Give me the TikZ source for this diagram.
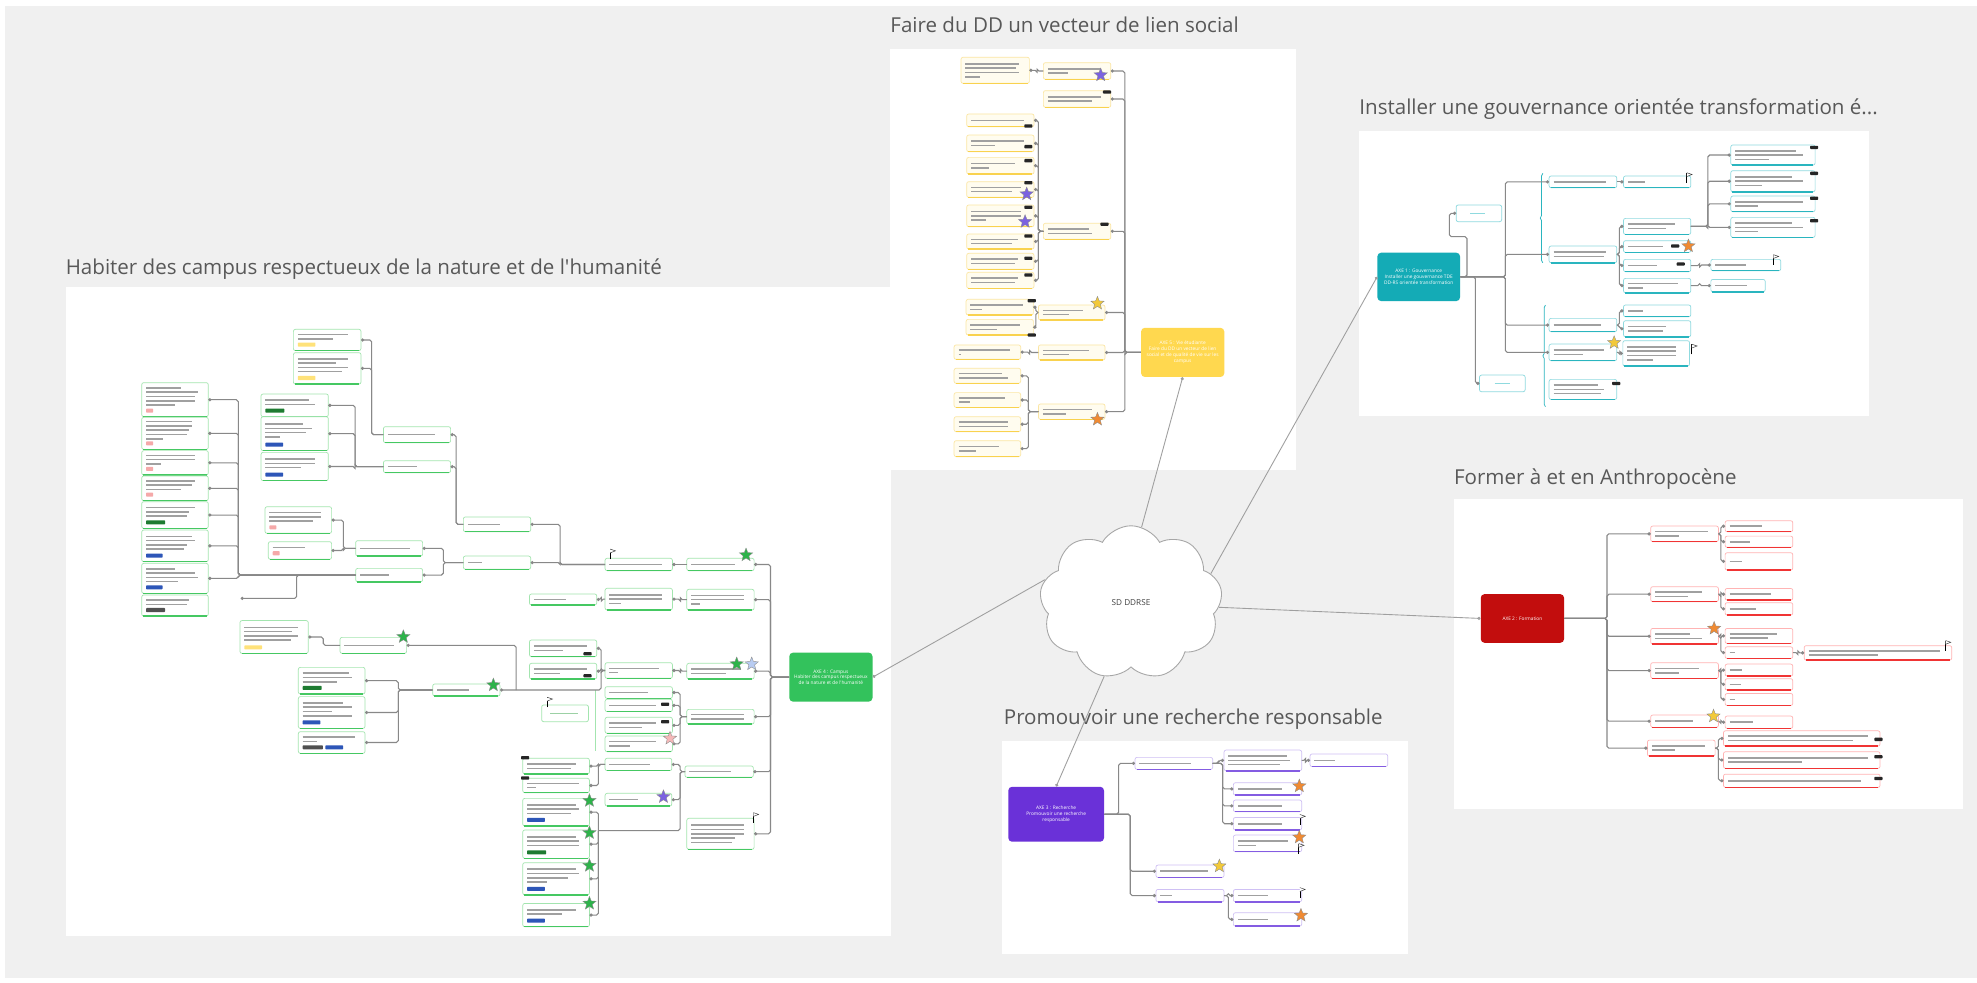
\documentclass[tikz,border=0pt]{standalone}
\usepackage{fontspec}
\setmainfont{Open Sans}
\usetikzlibrary{shapes.geometric,shapes.symbols,arrows.meta,calc,decorations.pathreplacing}
\definecolor{bgc}{HTML}{F0F0F0}
\definecolor{ttl}{HTML}{585858}
\definecolor{cn}{HTML}{888888}
\definecolor{barc}{HTML}{A0A0A0}
\definecolor{gL}{HTML}{A3E5AF}\definecolor{gD}{HTML}{45C862}\definecolor{gF}{HTML}{FFFFFF}
\definecolor{yL}{HTML}{FBE6A4}\definecolor{yD}{HTML}{F9D24E}\definecolor{yF}{HTML}{FFFCEF}
\definecolor{tL}{HTML}{8FDADF}\definecolor{tD}{HTML}{2AB5BF}\definecolor{tF}{HTML}{FFFFFF}
\definecolor{rL}{HTML}{FFB3B3}\definecolor{rD}{HTML}{F03434}\definecolor{rF}{HTML}{FFFFFF}
\definecolor{pL}{HTML}{CFC0F4}\definecolor{pD}{HTML}{845CE2}\definecolor{pF}{HTML}{FFFFFF}
\definecolor{axG}{HTML}{33C25C}\definecolor{axY}{HTML}{FFD84F}\definecolor{axT}{HTML}{14ABB6}
\definecolor{axR}{HTML}{C20D0D}\definecolor{axP}{HTML}{6A31D8}
\definecolor{tgP}{HTML}{F5A9A9}\definecolor{tgY}{HTML}{FFE27A}\definecolor{tgG}{HTML}{1E7B31}
\definecolor{tgB}{HTML}{2D56B8}\definecolor{tgK}{HTML}{505050}
\definecolor{sG}{HTML}{2DB34A}\definecolor{sP}{HTML}{7B62E0}\definecolor{sY}{HTML}{F2C93A}
\definecolor{sO}{HTML}{F08A32}\definecolor{sLB}{HTML}{B8CCF2}\definecolor{sPk}{HTML}{F5B8B8}
\tikzset{
  leaf/.style={rectangle,rounded corners=1.6,line width=0.55,inner sep=0,outer sep=0},
  bar/.style={draw=barc,line width=1.25},
  conn/.style={draw=cn,line width=0.85,rounded corners=1.5,-{Circle[length=2.5,width=2.5]}},
  cc/.style={draw=gray!75,line width=0.7,-{Circle[length=2.4,width=2.4]}},
  elb/.style={to path={-- ([xshift=#1]\tikztostart) |- (\tikztotarget) \tikztonodes}},
  axe/.style={rectangle,rounded corners=3,inner sep=1,align=center,text=white,font=\fontsize{3.8}{4.6}\selectfont},
  ttlsty/.style={inner sep=0,anchor=base west,text=ttl,font=\fontsize{16.3}{19}\selectfont},
  starsty/.style={star,star points=5,star point ratio=2.3,inner sep=0,minimum size=11,draw=black!45,line width=0.3},
  dotsty/.style={rectangle,fill=black!85,minimum width=6.5,minimum height=2.6,inner sep=0,rounded corners=0.6},
  notesty/.style={leaf,fill=white,line width=0.6}
}
\newcount\mybarcount
\newcounter{icn}
\newcommand{\bx}[8]{%
  \node[leaf,draw=#6L,fill=#6F,minimum width={#4-#2},minimum height={#5-#3}] (#1) at ({(#2+#4)/2},{(#3+#5)/2}) {};%
  \draw[line width=1.2,#6D] ($(#1.south west)+(1.3,0)$) -- ($(#1.south east)+(-1.3,0)$);%
  \global\mybarcount=0 %
  \foreach \x in {#7}{\global\advance\mybarcount by 1 }%
  \pgfmathsetmacro{\myhh}{(#5-#3-#8)/2}%
  \foreach \fr [count=\ii] in {#7}{%
    \draw[bar] ($(#1.north west)+(3.5,{\myhh+(\ii-(\the\mybarcount+1)/2)*3.4})$) -- ++({\fr*(#4-#2-7)},0);}%
}
\newcommand{\tg}[4]{\fill[#2,rounded corners=0.5] ($(#1.south west)+({3.5+#3},-6.4)$) rectangle ++(#4,3.2);}
\newcommand{\ctr}[7]{\node[axe,fill=#6,minimum width={#4-#2},minimum height={#5-#3}] (#1) at ({(#2+#4)/2},{(#3+#5)/2}) {#7};}
\newcommand{\st}[3]{\stepcounter{icn}\node[starsty,fill=#3] (ic\theicn) at (#1,#2) {};}
\newcommand{\dts}[2]{\stepcounter{icn}\node[dotsty] (ic\theicn) at (#1,#2) {};}
\newcommand{\flg}[2]{\stepcounter{icn}\coordinate (ic\theicn) at (#1,#2);
  \draw[black,line width=0.7] ($(ic\theicn)+(0,4)$) -- ($(ic\theicn)+(0,-4)$);
  \draw[black!80,line width=0.35,fill=white] ($(ic\theicn)+(0,-4)$) -- ($(ic\theicn)+(4.2,-2.6)$) -- ($(ic\theicn)+(0,-1)$);}
\begin{document}
\begin{tikzpicture}[x=1pt,y=-1pt]
\useasboundingbox (0,0) rectangle (1568,779);
\fill[white] (0,0) rectangle (1568,779);
\fill[bgc] (4,5) rectangle (1568,776);
% panels
\fill[white] (52,228) rectangle (707,742);
\fill[white] (706,39) rectangle (1028,373);
\fill[white] (1078,104) rectangle (1482,330);
\fill[white] (1153,396) rectangle (1557,642);
\fill[white] (795,588) rectangle (1117,757);
% titles
\node[ttlsty] (t1) at (52,218) {Habiter des campus respectueux de la nature et de l\textquotesingle humanité};
\node[ttlsty] (t2) at (706,26) {Faire du DD un vecteur de lien social};
\node[ttlsty] (t3) at (1078,91) {Installer une gouvernance orientée transformation é...};
\node[ttlsty] (t4) at (1153,384) {Former à et en Anthropocène};
\node[ttlsty] (t5) at (796,575) {Promouvoir une recherche responsable};

% central nodes
\ctr{gC}{626}{517.6}{692}{556.5}{axG}{AXE 4 : Campus\\Habiter des campus respectueux\\de la nature et de l\textquotesingle humanité}
\ctr{yC}{905}{260}{971}{299}{axY}{AXE 5 : Vie étudiante\\Faire du DD un vecteur de lien\\social et de qualité de vie sur les\\campus}
\ctr{tC}{1092.4}{200.4}{1158}{238.8}{axT}{AXE 1 : Gouvernance\\Installer une gouvernance TDE\\DD-RS orientée transformation}
\ctr{rC}{1174.4}{471.2}{1240.5}{509.8}{axR}{AXE 2 : Formation}
\ctr{pC}{799.7}{624}{875.6}{667.6}{axP}{AXE 3 : Recherche\\Promouvoir une recherche\\responsable}

% cloud
\node[cloud,cloud puffs=9,cloud puff arc=120,cloud ignores aspect,draw=gray!70,fill=white,line width=0.7,minimum width=145,minimum height=122,inner sep=0,font=\fontsize{6.5}{8}\selectfont,text=black!75] (cl) at (897,478) {SD DDRSE};
\draw[cc] (cl.82) -- (yC.south);
\draw[cc] (cl.20) -- (tC.west);
\draw[cc] (cl.-3) -- (rC.west);
\draw[cc] (cl.250) -- (pC.north);
\draw[cc] (cl.165) -- (gC.east);

% ================= GREEN =================
\bx{L1}{112.4}{303.5}{165.2}{330.5}{g}{0.6,0.9,0.85,0.85,0.5}{5}\tg{L1}{tgP}{0}{5.5}
\bx{L2}{112.4}{331}{165.2}{356.4}{g}{0.8,0.8,0.75,0.7,0.3}{5}\tg{L2}{tgP}{0}{5.5}
\bx{L3}{112.4}{357.4}{165.2}{376.7}{g}{0.85,0.85,0.25}{5}\tg{L3}{tgP}{0}{5.5}
\bx{L4}{112.4}{377.5}{165.2}{397.1}{g}{0.85,0.8,0.6}{5}\tg{L4}{tgP}{0}{5.5}
\bx{L5}{112.4}{397.9}{165.2}{419.1}{g}{0.85,0.75,0.7}{5}\tg{L5}{tgG}{0}{15}
\bx{L6}{112.4}{420.4}{165.2}{445.5}{g}{0.8,0.85,0.7,0.65}{5}\tg{L6}{tgB}{0}{13}
\bx{L7}{112.4}{446.8}{165.2}{470.6}{g}{0.5,0.85,0.9,0.55}{5}\tg{L7}{tgB}{0}{13}
\bx{L8}{112.4}{471.9}{165.2}{488.6}{g}{0.75,0.7}{5}\tg{L8}{tgK}{0}{15}
\bx{U1}{232.7}{261.2}{286.3}{278.1}{g}{0.85,0.6}{5}\tg{U1}{tgY}{0}{14}
\bx{U2}{232.7}{279.7}{286.3}{304.6}{g}{0.85,0.65,0.85,0.75}{5}\tg{U2}{tgY}{0}{14}
\bx{U3}{207}{312.5}{260.4}{330.5}{g}{0.75,0.85}{5}\tg{U3}{tgG}{0}{15}
\bx{U4}{207}{330.5}{260.4}{357.4}{g}{0.65,0.8,0.7,0.25}{5}\tg{U4}{tgB}{0}{14}
\bx{U5}{207}{358.8}{260.4}{381.2}{g}{0.85,0.85,0.6}{5}\tg{U5}{tgB}{0}{14}
\bx{V1}{304.1}{338.4}{357.4}{351.1}{g}{0.8}{0}
\bx{V2}{304.1}{365.4}{357.4}{374.9}{g}{0.5}{0}
\bx{M1}{210.2}{401.9}{263}{423}{g}{0.9,0.9,0.75}{5}\tg{M1}{tgP}{0}{5.5}
\bx{M2}{212.8}{429.6}{263}{443.6}{g}{0.6}{5}\tg{M2}{tgP}{0}{5.5}
\bx{M3}{282.1}{428.8}{335.2}{441}{g}{0.85}{0}
\bx{M4}{282.1}{450.8}{335.2}{461.4}{g}{0.5}{0}
\bx{W1}{367.5}{410}{420.9}{421.7}{g}{0.55}{0}
\bx{W2}{367.5}{441}{420.9}{451.5}{g}{0.25}{0}
\bx{G1}{190.3}{492.2}{244.5}{518.2}{g}{0.9,0.8,0.9,0.78}{5}\tg{G1}{tgY}{0}{14}
\bx{G2}{269.7}{505.5}{322.5}{518.2}{g}{0.85}{0}
\bx{G3}{343.2}{542.5}{396.6}{552}{g}{0.55}{0}
\bx{H1}{236.6}{529.3}{289.5}{550.4}{g}{0.8,0.85,0.6}{5}\tg{H1}{tgG}{0}{15}
\bx{H2}{236.6}{552.5}{289.5}{577.7}{g}{0.7,0.85,0.5,0.85}{5}\tg{H2}{tgB}{0}{14}
\bx{H3}{236.6}{580.3}{289.5}{597.5}{g}{0.9,0.25}{5}\tg{H3}{tgK}{0}{16}\tg{H3}{tgB}{18}{14}
\bx{J1}{479.9}{442.8}{533.3}{452.6}{g}{0.9}{0}
\bx{J2}{479.9}{466.6}{533.3}{483.8}{g}{0.9,0.9,0.2}{0}
\bx{J3}{419.9}{471.1}{473.3}{479.8}{g}{0.55}{0}
\bx{J4}{479.9}{525.6}{533.3}{538}{g}{0.85,0.15}{0}
\bx{J5}{419.9}{507.6}{473.3}{520.8}{g}{0.9,0.5}{0}
\bx{J6}{419.9}{526.1}{473.3}{538.5}{g}{0.9,0.45}{0}
\bx{K1}{544.7}{442.8}{598.1}{452.6}{g}{0.75}{0}
\bx{K2}{544.7}{467.4}{598.1}{483.8}{g}{0.9,0.9,0.15}{0}
\bx{K3}{544.7}{526.1}{598.1}{538.5}{g}{0.85,0.6}{0}
\bx{K4}{544.7}{562.6}{598.1}{574.2}{g}{0.9,0.9}{0}
\bx{K5}{543.3}{607.5}{597.5}{616.5}{g}{0.7}{0}
\bx{K6}{544.7}{649}{598.1}{673.6}{g}{0.9,0.9,0.9,0.75,0.7}{0}
\bx{gk1}{479.9}{544.6}{533.3}{553.9}{g}{0.65}{0}
\bx{gk2}{479.9}{554.6}{533.3}{564.4}{g}{0.8}{0}
\bx{gk3}{479.9}{568.9}{533.3}{581.6}{g}{0.8,0.55}{0}
\bx{gk4}{479.9}{583.7}{533.3}{596.2}{g}{0.8,0.35}{0}
\bx{E1}{479.9}{601.4}{532.8}{611.2}{g}{0.7}{0}
\bx{E2}{479.9}{629.2}{532.8}{639.3}{g}{0.5}{0}
\bx{EE1}{414.6}{601.4}{467.5}{613.9}{g}{0.85,0.75}{0}
\bx{EE2}{414.6}{617.3}{467.5}{628.7}{g}{0.9,0.15}{0}
\bx{F1}{414.6}{633.2}{467.5}{655.1}{g}{0.85,0.9,0.75}{5}\tg{F1}{tgB}{0}{14}
\bx{F2}{414.6}{658.3}{467.5}{680.8}{g}{0.85,0.9,0.9}{5}\tg{F2}{tgG}{0}{15}
\bx{F3}{414.6}{684.2}{467.5}{709.8}{g}{0.85,0.9,0.7,0.35}{5}\tg{F3}{tgB}{0}{14}
\bx{F4}{414.6}{716.5}{467.5}{735}{g}{0.85,0.6}{5}\tg{F4}{tgB}{0}{14}
\node[notesty,draw=gL,minimum width=37.1,minimum height=13.3] (gnote) at (448.15,565.75) {};
\draw[line width=0.9,gL!80!gray] ($(gnote.west)+(7,0)$) -- ++(22,0);
\draw[gL,line width=0.6] (472,547.2) -- (472,595.4);
% green connectors
\foreach \c in {K1,K2,K3,K4,K5,K6} \draw[conn] (gC.west) to[elb=-14.7] (\c.east);
\draw[conn] (K1.west) -- (J1.east);
\draw[conn] (K2.west) to[elb=-5] (J2.east);
\draw[conn] (J2.west) to[elb=-3] (J3.east);
\draw[conn] (K3.west) to[elb=-5] (J4.east);
\foreach \c in {W1,W2} \draw[conn] (J1.west) to[elb=-35.7] (\c.east);
\foreach \c in {V1,V2} \draw[conn] (W1.west) to[elb=-5.8] (\c.east);
\foreach \c in {M3,M4} \draw[conn] (W2.west) to[elb=-15.9] (\c.east);
\foreach \c in {U1,U2} \draw[conn] (V1.west) to[elb=-9.3] (\c.east);
\foreach \c in {U3,U4,U5} \draw[conn] (V2.west) to[elb=-22.5] (\c.east);
\foreach \c in {M1,M2} \draw[conn] (M3.west) to[elb=-9.8] (\c.east);
\foreach \c in {L1,L2,L3,L4,L5,L6,L7} \draw[conn] (M4.west) to[elb=-93.1] (\c.east);
\coordinate (lfree) at (190.9,474.6);
\draw[conn] (M4.west) to[elb=-46.8] (lfree);
\foreach \c in {J5,J6,G3} \draw[conn] (J4.west) to[elb=-3.2] (\c.east);
\draw[conn] ($(G3.east)+(12.7,0)$) |- (G2.east);
\draw[conn] (G2.west) to[elb=-13.3] (G1.east);
\foreach \c in {H1,H2,H3} \draw[conn] (G3.west) to[elb=-27.3] (\c.east);
\foreach \c in {gk1,gk2,gk3,gk4} \draw[conn] (K4.west) to[elb=-5.3] (\c.east);
\foreach \c in {E1,E2} \draw[conn] (K5.west) to[elb=-3.9] (\c.east);
\coordinate (fj) at (474.6,658.8);
\draw[conn,-] (K5.west) to[elb=-3.9] (fj);
\foreach \c in {F1,F2,F3,F4} \draw[conn] (fj) |- (\c.east);
\foreach \c in {EE1,EE2} \draw[conn] (E1.west) to[elb=-5.3] (\c.east);
% green icons
\st{591.7}{440.2}{sG}\st{584.3}{526.6}{sG}\st{596.2}{526.6}{sLB}\st{531.4}{585.6}{sPk}
\st{526.2}{631.9}{sP}\st{319.9}{505}{sG}\st{391.3}{543.3}{sG}
\st{467.5}{635}{sG}\st{467.5}{660.5}{sG}\st{467.5}{686.5}{sG}\st{467.5}{716.5}{sG}
\dts{416.5}{601}\dts{416.5}{617}\dts{466}{518.5}\dts{466}{536}\dts{527.5}{558.5}\dts{527.5}{572.4}
\flg{483.9}{439.5}\flg{597.5}{648.5}\flg{434}{557}

% ================= YELLOW =================
\bx{B1}{827.5}{49.7}{881}{62.9}{y}{0.9,0.35}{0}
\bx{B2}{827.5}{71.9}{881}{85.1}{y}{0.9,0.75}{0}
\bx{B3}{827.5}{177.1}{881}{189.8}{y}{0.7,0.75}{0}
\bx{B4}{823.6}{241.9}{876.4}{253.8}{y}{0.7,0.45}{0}
\bx{B5}{823.6}{273.6}{876.4}{285.5}{y}{0.8,0.45}{0}
\bx{B6}{823.6}{320.4}{876.4}{332.6}{y}{0.85,0.4}{0}
\bx{A1}{762.2}{45.4}{816.4}{66.1}{y}{0.9,0.85,0.9,0.25}{0}
\bx{Y1}{766.7}{90.4}{820.1}{100.5}{y}{0.9}{0}
\bx{Y2}{766.7}{107.1}{820.1}{120.3}{y}{0.9,0.4}{0}
\bx{Y3}{766.7}{124.8}{820.1}{138}{y}{0.75,0.3}{0}
\bx{Y4}{766.7}{144.1}{820.1}{156.5}{y}{0.85,0.7}{0}
\bx{Y5}{766.7}{162.6}{820.1}{179.8}{y}{0.85,0.85,0.25}{0}
\bx{Y6}{766.7}{185.6}{820.1}{197.5}{y}{0.8,0.7}{0}
\bx{Y7}{766.7}{200.9}{820.1}{213.6}{y}{0.8,0.75}{0}
\bx{Y8}{766.7}{216}{820.1}{228.7}{y}{0.8,0.75}{0}
\bx{Y9}{766.2}{237.4}{819.6}{249.8}{y}{0.9,0.2}{0}
\bx{Y10}{766.2}{253.3}{819.6}{265.7}{y}{0.85,0.45}{0}
\bx{Y11}{756.7}{273.6}{809.5}{285}{y}{0.9,0.05}{0}
\bx{Y12}{756.7}{292.1}{809.5}{304}{y}{0.75,0.85}{0}
\bx{Y13}{756.7}{311.4}{809.5}{323.1}{y}{0.8,0.2}{0}
\bx{Y14}{756.7}{330.5}{809.5}{342.4}{y}{0.85,0.85}{0}
\bx{Y15}{756.7}{349.5}{809.5}{362.2}{y}{0.7,0.3}{0}
\foreach \c in {B1,B2,B3,B4,B5,B6} \draw[conn] (yC.west) to[elb=-12.7] (\c.east);
\draw[conn] (B1.west) to[elb=-5] (A1.east);
\foreach \c in {Y1,Y2,Y3,Y4,Y5,Y6,Y7,Y8} \draw[conn] (B3.west) to[elb=-3.9] (\c.east);
\foreach \c in {Y9,Y10} \draw[conn] (B4.west) to[elb=-2] (\c.east);
\draw[conn] (B5.west) to[elb=-7] (Y11.east);
\foreach \c in {Y12,Y13,Y14,Y15} \draw[conn] (B6.west) to[elb=-8] (\c.east);
\st{873}{59.5}{sP}\st{870.4}{240.6}{sY}\st{870.4}{332.6}{sO}\st{814.3}{153.9}{sP}\st{813}{175.8}{sP}
\dts{878}{73}\dts{876}{177.8}
\dts{815.6}{99.9}\dts{815.6}{116.3}\dts{815.6}{127.4}\dts{815.6}{144.9}\dts{815.6}{164.4}
\dts{815.6}{187.2}\dts{815.6}{204.9}\dts{815.6}{218.1}\dts{818.3}{238.5}\dts{818.3}{265.7}

% ================= TEAL =================
\bx{C1}{1228.6}{139.6}{1282.3}{148.9}{t}{0.9}{0}
\bx{C2}{1228.6}{195.1}{1282.3}{208.4}{t}{0.9,0.85}{0}
\bx{C3}{1228.6}{252.5}{1282.3}{263.1}{t}{0.8}{0}
\bx{C4}{1228.6}{272.9}{1282.3}{286.1}{t}{0.85,0.5}{0}
\bx{C5}{1228.6}{300.9}{1282.3}{316.8}{t}{0.75,0.85,0.8}{0}
\bx{D1}{1287.6}{139.6}{1341}{148.9}{t}{0.3}{0}
\bx{D2}{1287.6}{173.2}{1341}{185.9}{t}{0.8,0.65}{0}
\bx{D3}{1287.6}{190.9}{1341}{200.2}{t}{0.6}{0}
\bx{D4}{1287.6}{205.7}{1341}{215.5}{t}{0.5}{0}
\bx{D5}{1287.6}{220.8}{1341}{232.2}{t}{0.85,0.25}{0}
\bx{D6}{1287.6}{241.9}{1341}{251.2}{t}{0.25}{0}
\bx{D7}{1287.6}{254.4}{1341}{267.1}{t}{0.65,0.6}{0}
\bx{D8}{1287.1}{270.2}{1340}{290.3}{t}{0.85,0.85,0.85,0.45}{0}
\bx{T1}{1372.7}{115}{1439.6}{130.9}{t}{0.8,0.9,0.45}{0}
\bx{T2}{1372.7}{135.4}{1439.6}{152.1}{t}{0.75,0.9,0.35}{0}
\bx{T3}{1372.7}{155.5}{1439.6}{167.9}{t}{0.9,0.3}{0}
\bx{T4}{1372.7}{172.4}{1439.6}{188.3}{t}{0.75,0.9,0.3}{0}
\bx{T5}{1356.9}{205.7}{1412.4}{214.7}{t}{0.5}{0}
\bx{T6}{1356.9}{221.6}{1400}{231.4}{t}{0.7}{0}
\node[notesty,draw=tL,minimum width=36.1,minimum height=13.2] (tN1) at (1172.95,169.2) {};
\draw[line width=0.8,tL] ($(tN1.west)+(11,0)$) -- ++(12,0);
\node[notesty,draw=tL,minimum width=36.2,minimum height=13.2] (tN2) at (1191.5,304.1) {};
\draw[line width=0.8,tL] ($(tN2.west)+(12,0)$) -- ++(12,0);
\draw[tD,line width=0.6,decorate,decoration={brace,amplitude=2}] (1223.6,208.4) -- (1223.6,137.5);
\draw[tD,line width=0.6,decorate,decoration={brace,amplitude=2}] (1225.7,322.6) -- (1225.7,242);
\foreach \c in {C1,C2,C3,C4} \draw[conn] (tC.east) to[elb=35.7] (\c.west);
\coordinate (tj) at (1149.5,187.7);
\draw[conn] (tC.east) to[elb=5.3] (tj) |- (tN1.west);
\draw[conn] (tC.east) to[elb=11.9] (tN2.west);
\draw[conn] (C1.east) -- (D1.west);
\foreach \c in {D2,D3,D4,D5} \draw[conn] (C2.east) to[elb=2.1] (\c.west);
\foreach \c in {D6,D7} \draw[conn] (C3.east) to[elb=2.1] (\c.west);
\draw[conn] (C4.east) to[elb=2.5] (D8.west);
\foreach \c in {T1,T2,T3,T4} \draw[conn] (D2.east) to[elb=13.5] (\c.west);
\draw[conn] (D4.east) to[elb=7] (T5.west);
\draw[conn] (D5.east) to[elb=7] (T6.west);
\st{1280.2}{271.8}{sY}\st{1339.1}{195.1}{sO}
\dts{1328.6}{195.1}\dts{1333}{209.4}\dts{1281.8}{304.1}
\dts{1438.8}{116.9}\dts{1438.8}{137.5}\dts{1438.8}{157.3}\dts{1438.8}{175}
\flg{1337.8}{141}\flg{1406.5}{206}\flg{1341.8}{277}

% ================= RED =================
\bx{R1}{1309.2}{417.2}{1362.9}{429.6}{r}{0.9,0.4}{0}
\bx{R2}{1309.2}{465.3}{1362.9}{477.2}{r}{0.8,0.55}{0}
\bx{R3}{1309.2}{498.4}{1362.9}{510.8}{r}{0.6,0.8}{0}
\bx{R4}{1309.2}{525.6}{1362.9}{538.1}{r}{0.75,0.4}{0}
\bx{R5}{1309.2}{567.1}{1362.9}{576.9}{r}{0.65}{0}
\bx{R6}{1306.6}{587}{1360.3}{599.7}{r}{0.9,0.4}{0}
\bx{R11}{1368.2}{413}{1421.9}{421.7}{r}{0.55}{0}
\bx{R12}{1368.2}{425.2}{1421.9}{434.1}{r}{0.35}{0}
\bx{R13}{1368.2}{438.4}{1421.9}{452.1}{r}{0.22}{0}
\bx{R21}{1368.2}{466.7}{1421.9}{475.9}{r}{0.7}{0}
\bx{R22}{1368.2}{478}{1421.9}{487.8}{r}{0.45}{0}
\bx{R31}{1368.2}{498.4}{1421.9}{510.3}{r}{0.8,0.65}{0}
\bx{R32}{1368.2}{513}{1421.9}{522.2}{r}{0.1}{0}
\bx{R41}{1368.2}{526.7}{1421.9}{536.2}{r}{0.22}{0}
\bx{R42}{1368.2}{538.3}{1421.9}{547.3}{r}{0.2}{0}
\bx{R43}{1368.2}{550}{1421.9}{559.5}{r}{0.1}{0}
\bx{R51}{1368.2}{567.9}{1421.9}{577.7}{r}{0.4}{0}
\bx{R61}{1366.9}{579.6}{1491.1}{591.7}{r}{0.95,0.85}{0}
\bx{R62}{1366.9}{596.2}{1491.1}{609.4}{r}{0.95,0.5}{0}
\bx{R63}{1366.9}{614}{1491.1}{624.5}{r}{0.9}{0}
\bx{R321}{1430.9}{512.1}{1548}{523.5}{r}{0.95,0.5}{0}
\foreach \c in {R1,R2,R3,R4,R5,R6} \draw[conn] (rC.east) to[elb=33.8] (\c.west);
\foreach \c in {R11,R12,R13} \draw[conn] (R1.east) to[elb=1.9] (\c.west);
\foreach \c in {R21,R22} \draw[conn] (R2.east) to[elb=1.9] (\c.west);
\foreach \c in {R31,R32} \draw[conn] (R3.east) to[elb=1.9] (\c.west);
\foreach \c in {R41,R42,R43} \draw[conn] (R4.east) to[elb=1.9] (\c.west);
\draw[conn] (R5.east) to[elb=1.9] (R51.west);
\foreach \c in {R61,R62,R63} \draw[conn] (R6.east) to[elb=2.6] (\c.west);
\draw[conn] (R32.east) to[elb=4] (R321.west);
\st{1359.5}{498.4}{sO}\st{1359}{568}{sY}
\dts{1489.8}{586.4}\dts{1489.8}{600.2}\dts{1489.8}{617.4}
\flg{1543}{512}

% ================= PURPLE =================
\bx{P1}{900.2}{600.7}{961.8}{610.2}{p}{0.75}{0}
\bx{P2}{916.8}{686.1}{970.8}{695.9}{p}{0.8}{0}
\bx{P3}{916.8}{705.4}{970.8}{715.2}{p}{0.2}{0}
\bx{Q1}{970.8}{594.9}{1032.4}{611.3}{p}{0.85,0.9,0.75}{0}
\bx{Q2}{978.2}{620.8}{1032.4}{630.6}{p}{0.75}{0}
\bx{Q3}{978.2}{634.5}{1032.4}{643.8}{p}{0.75}{0}
\bx{Q4}{978.2}{648.3}{1032.4}{658.3}{p}{0.75}{0}
\bx{Q5}{978.2}{662.3}{1032.4}{675.5}{p}{0.85,0.3}{0}
\bx{Q6}{978.2}{705.4}{1032.4}{715.2}{p}{0.5}{0}
\bx{Q7}{978.2}{723.9}{1032.4}{734.5}{p}{0.5}{0}
\bx{Q8}{1039}{598}{1100.6}{608}{p}{0.3}{0}
\draw[conn] (pC.east) to[elb=11.4] (P1.west);
\foreach \c in {P2,P3} \draw[conn] (pC.east) to[elb=20.6] (\c.west);
\draw[conn] (P1.east) to[elb=4.5] (Q1.west);
\foreach \c in {Q2,Q3,Q4} \draw[conn] (P1.east) to[elb=7.9] (\c.west);
\draw[conn] (Q1.east) to[elb=3] (Q8.west);
\foreach \c in {Q6,Q7} \draw[conn] (P3.east) to[elb=3.4] (\c.west);
\st{967.1}{686.9}{sY}\st{1030.5}{623.4}{sO}\st{1030.5}{664}{sO}\st{1031.8}{726}{sO}
\flg{1031}{650}\flg{1030}{673}\flg{1031}{708}
\end{tikzpicture}
\end{document}
